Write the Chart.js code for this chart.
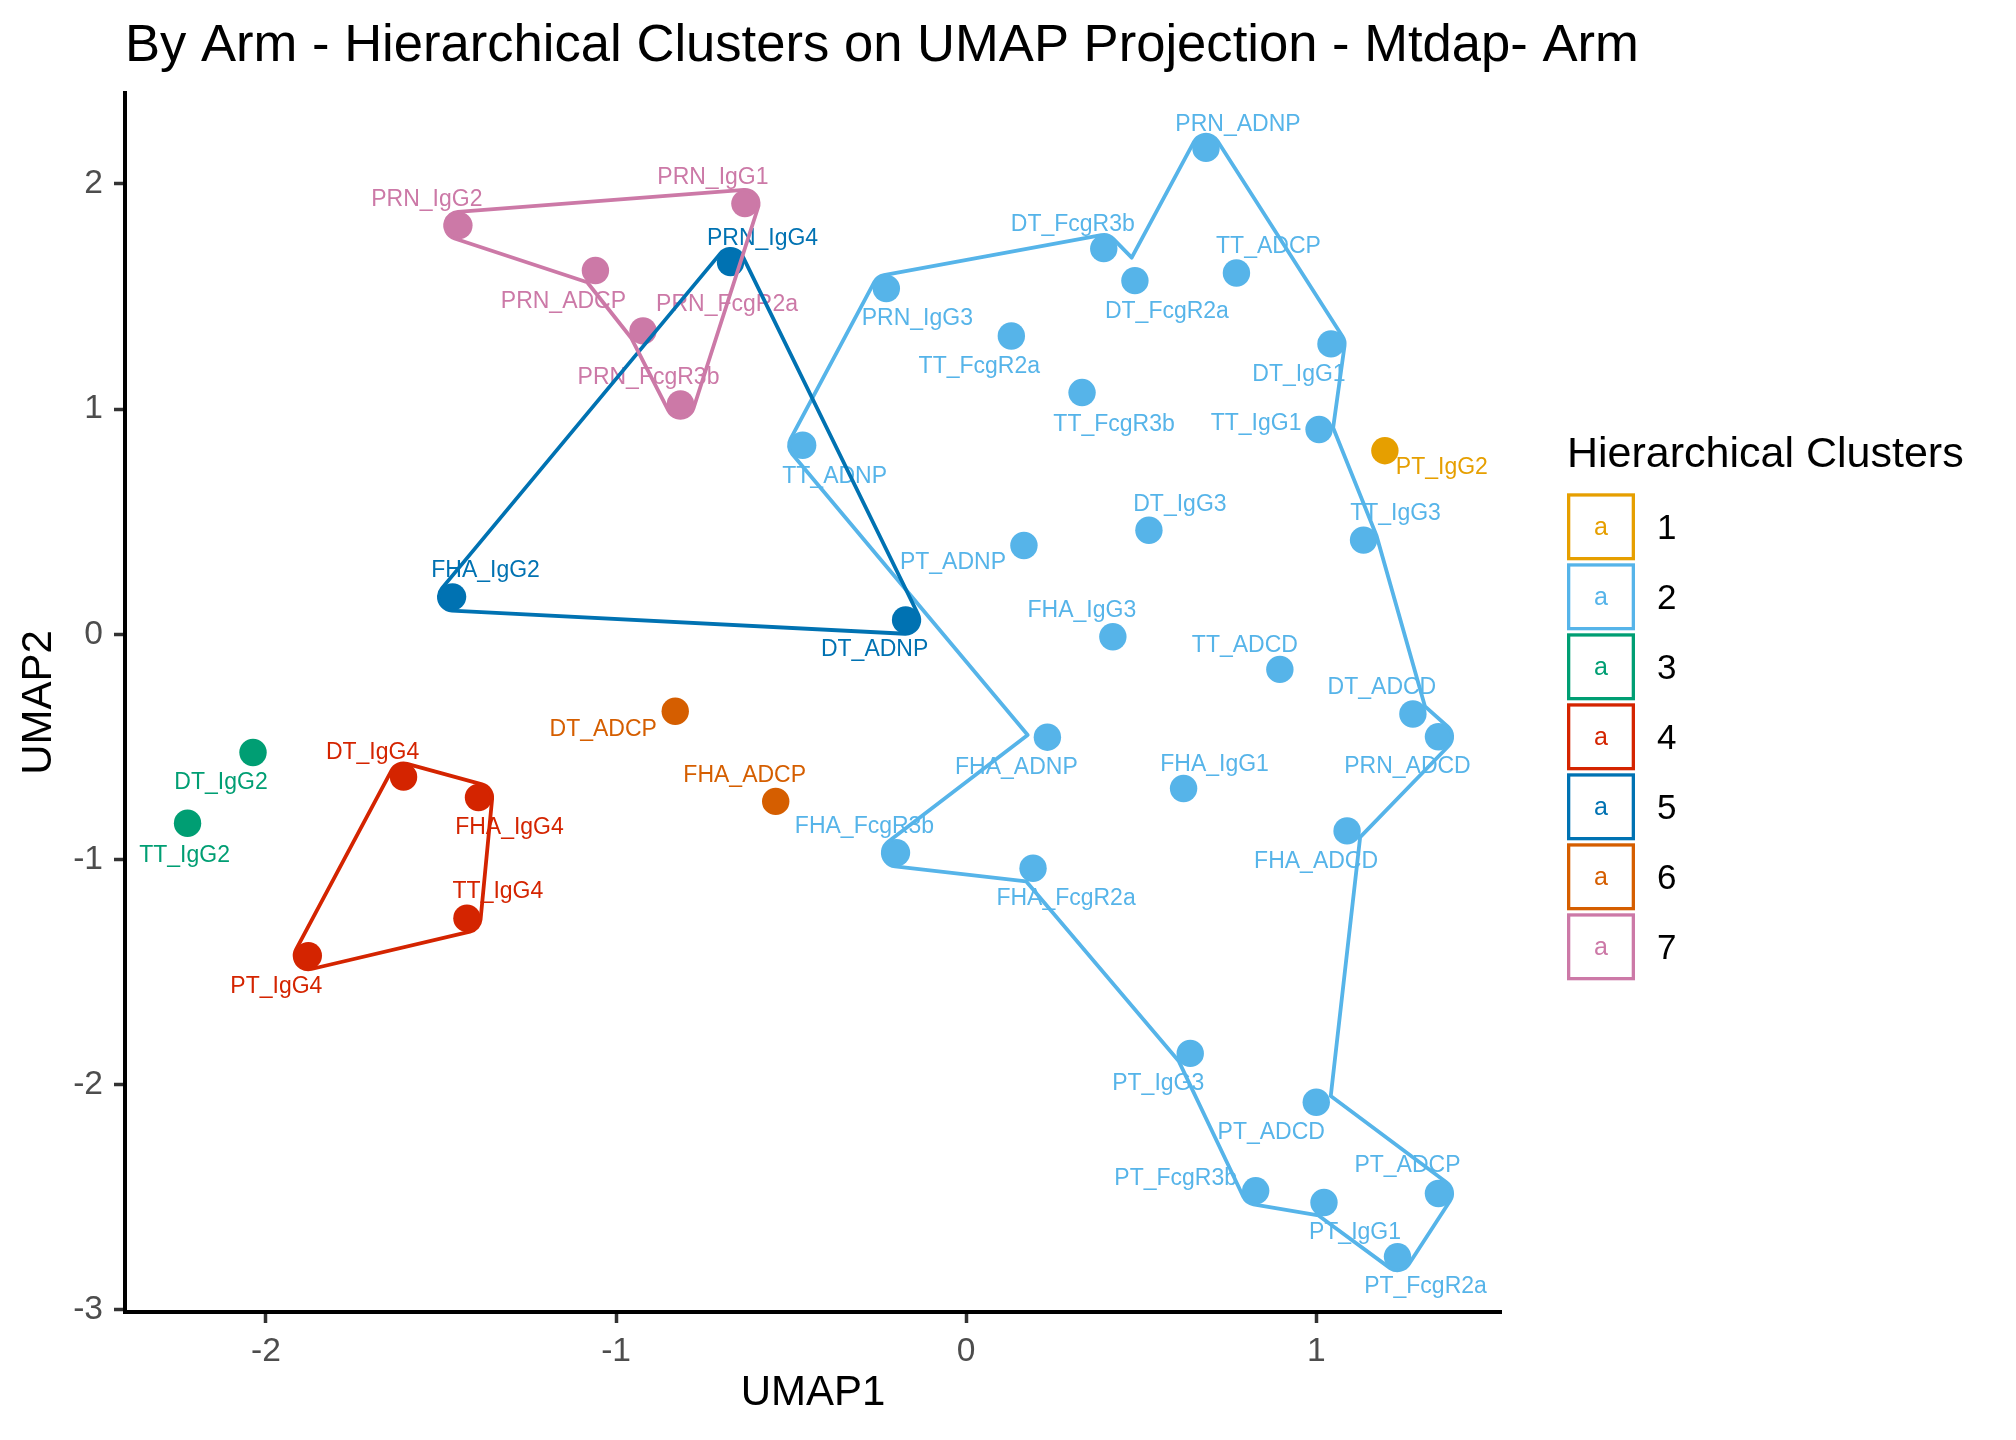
<!DOCTYPE html>
<html>
<head>
<meta charset="utf-8">
<title>By Arm - Hierarchical Clusters on UMAP Projection - Mtdap- Arm</title>
<script src="https://cdn.jsdelivr.net/npm/chart.js@4.4.1/dist/chart.umd.min.js"></script>
<style>
    html, body { margin: 0; padding: 0; background: #ffffff; }
    #wrap { width: 2016px; height: 1440px; }
</style>
</head>
<body>
<div id="wrap"><canvas id="umap" width="2016" height="1440"></canvas></div>
<script>
// point names, one per marker, grouped by cluster
var names = [
    "PT_IgG2",
    "PRN_ADNP", "DT_FcgR3b", "DT_FcgR2a", "TT_ADCP", "PRN_IgG3", "TT_FcgR2a", "DT_IgG1",
    "TT_FcgR3b", "TT_IgG1", "TT_ADNP", "DT_IgG3", "TT_IgG3", "PT_ADNP", "FHA_IgG3",
    "TT_ADCD", "DT_ADCD", "PRN_ADCD", "FHA_ADNP", "FHA_IgG1", "FHA_ADCD", "FHA_FcgR3b",
    "FHA_FcgR2a", "PT_IgG3", "PT_ADCD", "PT_FcgR3b", "PT_IgG1", "PT_ADCP", "PT_FcgR2a",
    "DT_IgG2", "TT_IgG2",
    "DT_IgG4", "FHA_IgG4", "TT_IgG4", "PT_IgG4",
    "PRN_IgG4", "FHA_IgG2", "DT_ADNP",
    "DT_ADCP", "FHA_ADCP",
    "PRN_IgG1", "PRN_IgG2", "PRN_ADCP", "PRN_FcgR2a", "PRN_FcgR3b"
];

var umap1 = [
    1.196,
    0.685, 0.393, 0.482, 0.772, -0.228, 0.129, 1.042,
    0.331, 1.008, -0.467, 0.522, 1.135, 0.165, 0.419,
    0.896, 1.276, 1.349, 0.232, 0.621, 1.088, -0.199,
    0.191, 0.640, 1.000, 0.827, 1.022, 1.349, 1.232,
    -2.037, -2.224,
    -1.607, -1.393, -1.426, -1.879,
    -0.673, -1.467, -0.173,
    -0.831, -0.544,
    -0.632, -1.449, -1.059, -0.923, -0.816
];

var umap2 = [
    0.815,
    2.157, 1.712, 1.570, 1.604, 1.535, 1.324, 1.289,
    1.073, 0.909, 0.839, 0.462, 0.418, 0.394, -0.011,
    -0.156, -0.354, -0.455, -0.457, -0.685, -0.873, -0.970,
    -1.039, -1.861, -2.078, -2.471, -2.523, -2.483, -2.763,
    -0.525, -0.839,
    -0.634, -0.725, -1.261, -1.427,
    1.650, 0.166, 0.063,
    -0.342, -0.742,
    1.912, 1.815, 1.615, 1.347, 1.022
];

var clusterOf = [
    1,
    2, 2, 2, 2, 2, 2, 2, 2, 2, 2, 2, 2, 2, 2,
    2, 2, 2, 2, 2, 2, 2, 2, 2, 2, 2, 2, 2, 2,
    3, 3,
    4, 4, 4, 4,
    5, 5, 5,
    6, 6,
    7, 7, 7, 7, 7
];

var clusters = [1, 2, 3, 4, 5, 6, 7];

// outline order of each drawn cluster boundary
var hull2 = ["PRN_ADNP", "DT_IgG1", "TT_IgG1", "TT_IgG3", "DT_ADCD", "PRN_ADCD", "FHA_ADCD",
    "PT_ADCD", "PT_ADCP", "PT_FcgR2a", "PT_IgG1", "PT_FcgR3b", "PT_IgG3", "FHA_FcgR2a",
    "FHA_FcgR3b", "FHA_ADNP", "TT_ADNP", "PRN_IgG3", "DT_FcgR3b", "DT_FcgR2a"];
var hull4 = ["DT_IgG4", "FHA_IgG4", "TT_IgG4", "PT_IgG4"];
var hull5 = ["PRN_IgG4", "DT_ADNP", "FHA_IgG2"];
var hull7 = ["PRN_IgG2", "PRN_IgG1", "PRN_FcgR3b", "PRN_FcgR2a", "PRN_ADCP"];
var hulls = [[2, hull2], [4, hull4], [5, hull5], [7, hull7]];

var xTicks = [-2, -1, 0, 1];
var yTicks = [-3, -2, -1, 0, 1, 2];

// styling
var colors = {1: "#E69F00", 2: "#56B4E9", 3: "#009E73", 4: "#D42400", 5: "#0072B2", 6: "#D55E00", 7: "#CC79A7"};
var fontFamily = '"Liberation Sans", Arial, Helvetica, sans-serif';
var pointR = 13.7;

// text label nudges in pixels (same order as names)
var labelNudge = [
    [57, 17],
    [32, -24], [-31, -24], [32, 31], [32, -26], [31, 30], [-32, 31], [-32, 31],
    [32, 32], [-63, -6], [32, 31], [31, -26], [32, -26], [-71, 17], [-31, -26],
    [-35, -24], [-31, -26], [-31, 30], [-31, 30], [31, -24], [-31, 31], [-32, -26],
    [33, 30], [-32, 30], [-45, 30], [-80, -12], [31, 30], [-31, -28], [28, 30],
    [-32, 30], [-3, 32],
    [-31, -24], [31, 30], [31, -27], [-32, 31],
    [32, -24], [33, -26], [-31, 30],
    [-72, 18], [-31, -26],
    [-32, -26], [-32, -26], [-32, 31], [84, -26], [-32, -26]
];

// ggplot style 5% expansion of the data range
var expand = function (vals) {
    var lo = Math.min.apply(null, vals), hi = Math.max.apply(null, vals);
    var pad = (hi - lo) * 0.05;
    return [lo - pad, hi + pad];
};
var xLim = expand(umap1);
var yLim = expand(umap2);

var datasets = clusters.map(function (c) {
    var pts = [];
    for (var i = 0; i < names.length; i++) {
        if (clusterOf[i] === c) pts.push({x: umap1[i], y: umap2[i]});
    }
    return {
        label: String(c),
        data: pts,
        backgroundColor: colors[c],
        borderWidth: 0,
        pointRadius: pointR,
        pointHoverRadius: pointR,
        pointBorderWidth: 0
    };
});

// outline around the member points, pushed out by the point radius
var strokeHull = function (ctx, pts, d) {
    var n = pts.length, area = 0;
    for (var i = 0; i < n; i++) {
        var a = pts[i], b = pts[(i + 1) % n];
        area += a.x * b.y - b.x * a.y;
    }
    var s = area > 0 ? 1 : -1;
    var normal = function (a, b) {
        var dx = b.x - a.x, dy = b.y - a.y, len = Math.hypot(dx, dy);
        return {x: s * dy / len, y: -s * dx / len};
    };
    ctx.beginPath();
    for (var j = 0; j < n; j++) {
        var prev = pts[(j - 1 + n) % n], v = pts[j], next = pts[(j + 1) % n];
        var n1 = normal(prev, v), n2 = normal(v, next);
        var cross = ((v.x - prev.x) * (next.y - v.y) - (v.y - prev.y) * (next.x - v.x)) * s;
        if (cross > 0) {
            var sx = v.x + d * n1.x, sy = v.y + d * n1.y;
            if (j === 0) ctx.moveTo(sx, sy); else ctx.lineTo(sx, sy);
            ctx.arc(v.x, v.y, d, Math.atan2(n1.y, n1.x), Math.atan2(n2.y, n2.x), s < 0);
        } else {
            var k = d / (1 + n1.x * n2.x + n1.y * n2.y);
            var px = v.x + k * (n1.x + n2.x), py = v.y + k * (n1.y + n2.y);
            if (j === 0) ctx.moveTo(px, py); else ctx.lineTo(px, py);
        }
    }
    ctx.closePath();
    ctx.stroke();
};

var overlay = {
    id: "overlay",
    afterDatasetsDraw: function (chart) {
        var ctx = chart.ctx, xs = chart.scales.x, ys = chart.scales.y;
        ctx.save();

        // point labels
        ctx.font = "23px " + fontFamily;
        ctx.textAlign = "center";
        ctx.textBaseline = "middle";
        for (var i = 0; i < names.length; i++) {
            ctx.fillStyle = colors[clusterOf[i]];
            ctx.fillText(names[i],
                xs.getPixelForValue(umap1[i]) + labelNudge[i][0],
                ys.getPixelForValue(umap2[i]) + labelNudge[i][1]);
        }

        // cluster outlines
        ctx.lineWidth = 3.8;
        ctx.lineJoin = "round";
        hulls.forEach(function (h) {
            var pts = h[1].map(function (nm) {
                var i = names.indexOf(nm);
                return {x: xs.getPixelForValue(umap1[i]), y: ys.getPixelForValue(umap2[i])};
            });
            ctx.strokeStyle = colors[h[0]];
            strokeHull(ctx, pts, pointR);
        });
        ctx.restore();
    },
    afterDraw: function (chart) {
        var ctx = chart.ctx, area = chart.chartArea;
        ctx.save();

        // title
        ctx.fillStyle = "#000000";
        ctx.font = "52.6px " + fontFamily;
        ctx.textAlign = "left";
        ctx.textBaseline = "alphabetic";
        ctx.fillText("By Arm - Hierarchical Clusters on UMAP Projection - Mtdap- Arm", area.left, 61);

        // legend
        var lx = area.right + 66;
        ctx.font = "43px " + fontFamily;
        ctx.fillText("Hierarchical Clusters", lx, 467);
        clusters.forEach(function (c, i) {
            var top = 493.3 + i * 70;
            ctx.strokeStyle = colors[c];
            ctx.lineWidth = 3.3;
            ctx.strokeRect(lx + 1.65, top + 1.65, 64.7, 63.7);
            ctx.fillStyle = colors[c];
            ctx.font = "25px " + fontFamily;
            ctx.textAlign = "center";
            ctx.textBaseline = "middle";
            ctx.fillText("a", lx + 34, top + 35);
            ctx.fillStyle = "#000000";
            ctx.font = "35px " + fontFamily;
            ctx.textAlign = "left";
            ctx.fillText(String(c), lx + 90, top + 36);
        });
        ctx.restore();
    }
};

Chart.defaults.font.family = fontFamily;

new Chart(document.getElementById("umap"), {
    type: "scatter",
    data: {datasets: datasets},
    plugins: [overlay],
    options: {
        responsive: false,
        devicePixelRatio: 1,
        animation: false,
        layout: {padding: {top: 93, right: 515, bottom: 0, left: 0}},
        plugins: {
            legend: {display: false},
            tooltip: {enabled: false},
            title: {display: false}
        },
        scales: {
            x: {
                type: "linear",
                min: xLim[0],
                max: xLim[1],
                afterBuildTicks: function (s) { s.ticks = xTicks.map(function (v) { return {value: v}; }); },
                afterFit: function (s) { s.height = 128; },
                grid: {display: true, drawOnChartArea: false, drawTicks: true, tickLength: 11, tickWidth: 3.5, tickColor: "#333333"},
                border: {display: true, color: "#000000", width: 4},
                ticks: {
                    color: "#4D4D4D",
                    font: {size: 33.6},
                    padding: 9,
                    maxRotation: 0,
                    autoSkip: false,
                    callback: function (v) { return String(v); }
                },
                title: {display: true, text: "UMAP1", color: "#000000", font: {size: 42}, padding: {top: 0, bottom: 21}}
            },
            y: {
                type: "linear",
                min: yLim[0],
                max: yLim[1],
                afterBuildTicks: function (s) { s.ticks = yTicks.map(function (v) { return {value: v}; }); },
                afterFit: function (s) { s.width = 125; },
                grid: {display: true, drawOnChartArea: false, drawTicks: true, tickLength: 11, tickWidth: 3.5, tickColor: "#333333"},
                border: {display: true, color: "#000000", width: 4},
                ticks: {
                    color: "#4D4D4D",
                    font: {size: 33.6},
                    padding: 11,
                    autoSkip: false,
                    callback: function (v) { return String(v); }
                },
                title: {display: true, text: "UMAP2", color: "#000000", font: {size: 42}, padding: {top: 14, bottom: 0}}
            }
        }
    }
});
</script>
</body>
</html>
